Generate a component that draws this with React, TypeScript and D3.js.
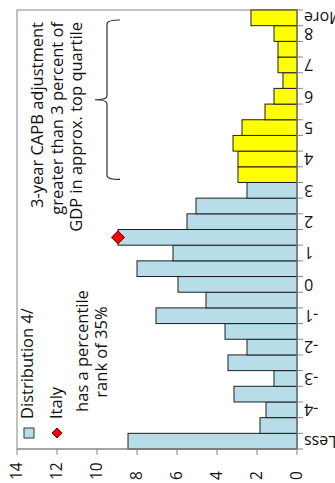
import React from 'react';
import * as d3 from 'd3';

// Distribution of 3-year CAPB adjustments (percent of GDP), share of episodes per bin
const categories = [
  'Less', '-4.5', '-4', '-3.5', '-3', '-2.5', '-2', '-1.5', '-1', '-0.5', '0', '0.5', '1', '1.5',
  '2', '2.5', '3', '3.5', '4', '4.5', '5', '5.5', '6', '6.5', '7', '7.5', '8', 'More',
];
const shares = [
  8.45, 1.85, 1.55, 3.15, 1.15, 3.45, 2.5, 3.6, 7.05, 4.55, 5.95, 8.0, 6.2, 8.95,
  5.5, 5.05, 2.5, 2.95, 2.95, 3.2, 2.75, 1.6, 1.15, 0.7, 0.95, 0.95, 1.15, 2.3,
];
// Only "Less", the whole numbers and "More" carry a label
const categoryLabels = categories.map((c) =>
  c === 'Less' || c === 'More' || Number.isInteger(Number(c)) ? c : ''
);
const valueTicks = [0, 2, 4, 6, 8, 10, 12, 14];
// Bins from here on: adjustment greater than 3 percent of GDP
const topQuartileFrom = '3.5';
const italyBin = '1.5';
const italyValue = 8.95;

const legendLabels = ['Distribution 4/', 'Italy'];
const italyNote = ['has a percentile', 'rank of 35%'];
const braceNote = ['3-year CAPB adjustment', 'greater than 3 percent of', 'GDP in approx. top quartile'];

const W = 335;
const H = 483;
const FONT = "'Open Sans', 'DejaVu Sans', sans-serif";
const BLUE = '#b7dee8';
const YELLOW = '#ffff00';
const GRID = '#868686';
const TEXT = '#111';

export default function App() {
  // The chart is laid out upright in a H x W frame, then turned a quarter turn.
  const x = d3.scaleBand<string>().domain(categories).range([34, 473]).padding(0);
  const y = d3.scaleLinear().domain([0, 14]).range([297, 17]);
  const bw = x.bandwidth();
  const hiIdx = categories.indexOf(topQuartileFrom);

  const diamond = (cx: number, cy: number, r: number) =>
    `M${cx},${cy - r}L${cx + r},${cy}L${cx},${cy + r}L${cx - r},${cy}Z`;

  // curly brace over the top-quartile bins
  const bx0 = (x(topQuartileFrom) as number) + 3;
  const bx1 = (x('More') as number) + bw - 10;
  const bm = (bx0 + bx1) / 2;
  const by = 107;
  const braceD = [
    `M${bx0},120`,
    `Q${bx0},${by} ${bx0 + 4},${by}`,
    `L${bm - 4},${by}`,
    `Q${bm},${by} ${bm},${by - 12}`,
    `Q${bm},${by} ${bm + 4},${by}`,
    `L${bx1 - 4},${by}`,
    `Q${bx1},${by} ${bx1},120`,
  ].join(' ');

  return (
    <svg
      width={W}
      height={H}
      style={{ position: 'absolute', left: 0, top: 0, display: 'block' }}
      fontFamily={FONT}
    >
      <rect width={W} height={H} fill="#fff" />
      <g transform={`translate(0,${H}) rotate(-90)`}>
        {/* plot frame */}
        <rect x={34} y={17} width={439} height={280} fill="none" stroke={GRID} strokeWidth={1} />

        {/* bars */}
        {categories.map((c, i) => (
          <rect
            key={c}
            x={x(c)}
            y={y(shares[i])}
            width={bw}
            height={y(0) - y(shares[i])}
            fill={i >= hiIdx ? YELLOW : BLUE}
            stroke="#1e1e1e"
            strokeWidth={1}
          />
        ))}

        {/* category axis */}
        <line x1={34} x2={473} y1={297} y2={297} stroke={GRID} />
        {categories.concat(['']).map((c, i) => {
          const px = 34 + i * bw;
          return <line key={'ct' + i} x1={px} x2={px} y1={297} y2={303} stroke={GRID} />;
        })}
        {categories.map((c, i) =>
          categoryLabels[i] ? (
            <text
              key={'cl' + c}
              transform={`translate(${(x(c) as number) + bw / 2},304) rotate(-90)`}
              textAnchor="end"
              dy="0.35em"
              fontSize={16}
              fill={TEXT}
            >
              {categoryLabels[i]}
            </text>
          ) : null
        )}

        {/* value axis */}
        <line x1={34} x2={34} y1={17} y2={297} stroke={GRID} />
        {valueTicks.map((v) => (
          <g key={'vt' + v}>
            <line x1={28} x2={34} y1={y(v)} y2={y(v)} stroke={GRID} />
            <text x={3} y={y(v)} dy="0.35em" fontSize={15.5} fill={TEXT}>
              {v}
            </text>
          </g>
        ))}

        {/* Italy marker */}
        <path
          d={diamond((x(italyBin) as number) + bw / 2, y(italyValue), 6.5)}
          fill="#ff0000"
          stroke="#5a0000"
          strokeWidth={1}
        />

        {/* legend */}
        <rect x={45} y={24} width={10} height={10} fill={BLUE} stroke="#333" />
        <text x={64} y={33} fontSize={16.5} fill={TEXT}>
          {legendLabels[0]}
        </text>
        <path d={diamond(50, 57, 5)} fill="#ff0000" stroke="#5a0000" />
        <text x={64} y={62} fontSize={16.5} fill={TEXT}>
          {legendLabels[1]}
        </text>
        <text x={132} y={88} fontSize={16.5} fill={TEXT} textAnchor="middle">
          {italyNote[0]}
        </text>
        <text x={131} y={107} fontSize={16.5} fill={TEXT} textAnchor="middle">
          {italyNote[1]}
        </text>

        {/* top-quartile note and brace */}
        {braceNote.map((t, i) => (
          <text key={'bn' + i} x={461} y={43 + i * 19.5} fontSize={16.5} fill={TEXT} textAnchor="end">
            {t}
          </text>
        ))}
        <path d={braceD} fill="none" stroke="#333" strokeWidth={1.2} />
      </g>
    </svg>
  );
}
